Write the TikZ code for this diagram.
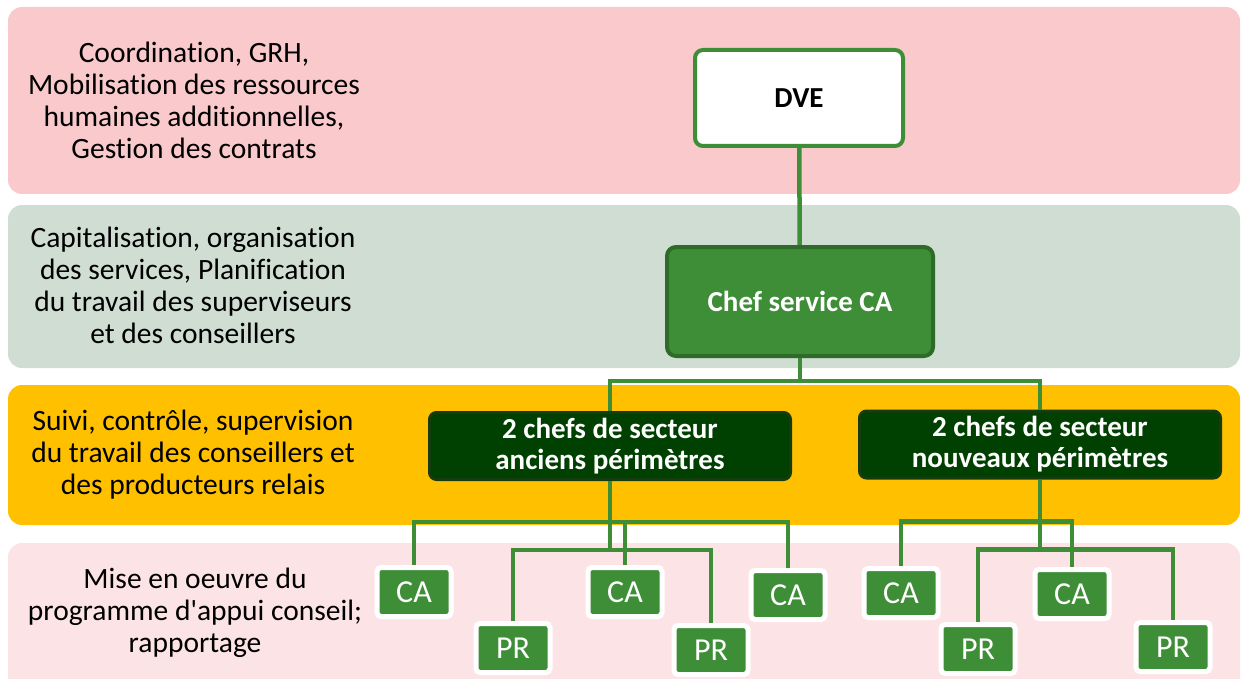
\documentclass[tikz,border=0pt]{standalone}
\usepackage{fontspec}
\setmainfont{Carlito}[Ligatures=NoCommon]
\usetikzlibrary{positioning}
\definecolor{bandone}{RGB}{249,201,204}
\definecolor{bandtwo}{RGB}{208,221,210}
\definecolor{bandthree}{RGB}{255,192,0}
\definecolor{bandfour}{RGB}{252,228,230}
\definecolor{mygreen}{RGB}{62,142,55}
\definecolor{chefborder}{RGB}{46,107,40}
\definecolor{darkgreen}{RGB}{0,64,0}
\definecolor{darkborder}{RGB}{20,60,15}

\tikzset{
  band/.style={rounded corners=14pt},
  bandtext/.style={align=center, font=\fontsize{29.5}{32}\selectfont},
  link/.style={draw=mygreen, line width=4.5pt},
  dvebox/.style={draw=mygreen, fill=white, line width=4pt, rounded corners=8pt,
    minimum width=208pt, minimum height=96pt, font=\bfseries\fontsize{29}{32}\selectfont},
  chefbox/.style={draw=chefborder, fill=mygreen, text=white, line width=4pt, rounded corners=9pt,
    minimum width=266pt, minimum height=109pt, font=\bfseries\fontsize{29}{32}\selectfont},
  secbox/.style={draw=darkborder, fill=darkgreen, text=white, line width=3pt, rounded corners=7pt,
    minimum width=361pt, minimum height=67pt, inner sep=0pt, align=center, font=\bfseries\fontsize{29}{31}\selectfont},
  unitbox/.style={draw=white, fill=mygreen, text=white, line width=5pt, rounded corners=4pt,
    minimum width=74pt, minimum height=49pt, inner sep=0pt, font=\fontsize{32}{34}\selectfont}
}

\begin{document}
\begin{tikzpicture}[x=1pt,y=-1pt]
\clip (0,0) rectangle (1244,679);

% bands
\fill[band, bandone] (8,7) rectangle (1240,194);
\fill[band, bandtwo] (8,205) rectangle (1240,368);
\fill[band, bandthree] (8,385) rectangle (1240,525);
\fill[band, bandfour] (8,543) rectangle (1240,700);

\node[bandtext] (txtone) at (194,100) {Coordination, GRH,\\Mobilisation des ressources\\humaines additionnelles,\\Gestion des contrats};
\node[bandtext] (txttwo) at (193,285) {Capitalisation, organisation\\des services, Planification\\du travail des superviseurs\\et des conseillers};
\node[bandtext] (txtthree) at (193,455) {Suivi, contrôle, supervision\\du travail des conseillers et\\des producteurs relais};
\node[bandtext] (txtfour) at (195,613) {Mise en oeuvre du\\programme d\textquotesingle appui conseil;\\rapportage};

% hierarchy
\node[dvebox] (dve) at (799,98) {DVE};
\node[chefbox] (chef) at (800,301.5) {Chef service CA};
\node[secbox] (lc) at (610,446) {2 chefs de secteur\\anciens périmètres};
\node[secbox] (rc) at (1040,444.5) {2 chefs de secteur\\nouveaux périmètres};

\node[unitbox] (ca1) at (414,592) {CA};
\node[unitbox] (pr1) at (513,648) {PR};
\node[unitbox] (ca2) at (625,592) {CA};
\node[unitbox] (pr2) at (711,650) {PR};
\node[unitbox] (ca3) at (788,595) {CA};
\node[unitbox] (ca4) at (901,593) {CA};
\node[unitbox] (pr3) at (978,649) {PR};
\node[unitbox] (ca5) at (1072,594) {CA};
\node[unitbox] (pr4) at (1173,647) {PR};

% connectors
\draw[link] (dve) -- (chef);
\draw[link] (chef.south) -- ++(0,23) -| (lc.north);
\draw[link] (chef.south) -- ++(0,23) -| (rc.north);

\foreach \u in {ca1,ca2,ca3}
  \draw[link] (lc.south) -- ++(0,41) -| (\u.north);
\foreach \u in {pr1,pr2}
  \draw[link] (lc.south) -- ++(0,69) -| (\u.north);
\foreach \u in {ca4,ca5}
  \draw[link] (rc.south) -- ++(0,42) -| (\u.north);
\foreach \u in {pr3,pr4}
  \draw[link] (rc.south) -- ++(0,70) -| (\u.north);
\end{tikzpicture}
\end{document}
